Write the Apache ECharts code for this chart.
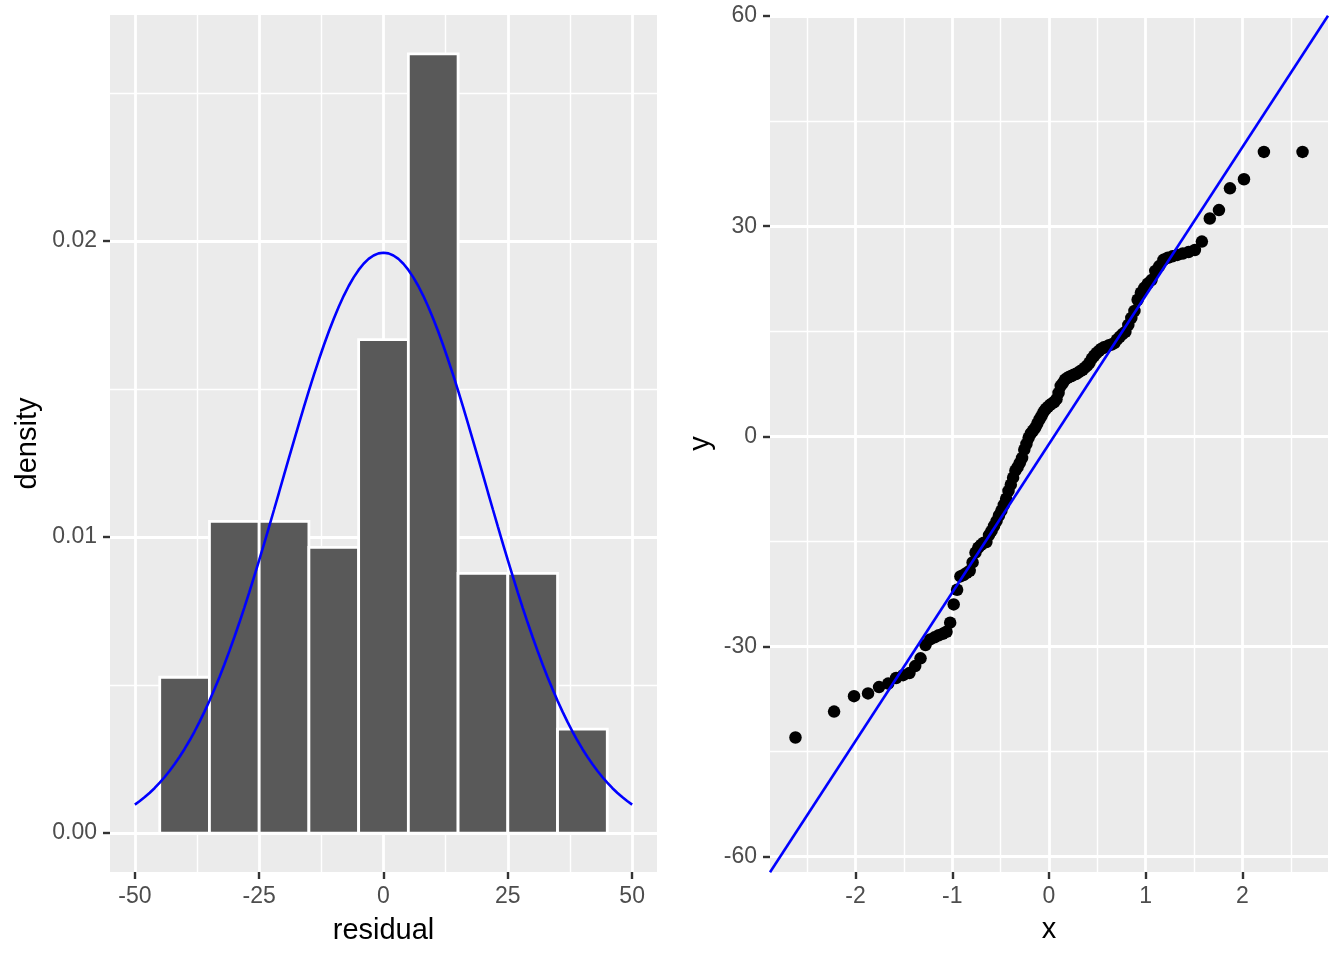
<!DOCTYPE html>
<html>
<head>
<meta charset="utf-8">
<script src="https://cdn.jsdelivr.net/npm/echarts@6/dist/echarts.min.js"></script>
<style>
  html, body { margin: 0; padding: 0; background: #FFFFFF; }
  #chart { width: 1344px; height: 960px; }
</style>
</head>
<body>
<div id="chart"></div>
<script>
// histogram: bins of width 10 starting at -45
var binStarts = [-45, -35, -25, -15, -5, 5, 15, 25, 35];
var binWidth = 10;
var binCounts = [6, 12, 12, 11, 19, 30, 10, 10, 4];
var nObs = 114;

// normal curve overlaid on the histogram
var normMean = 0;
var normSd = 20.35;
var curveFrom = -50;
var curveTo = 50;

// sorted residuals (sample quantiles)
var residuals = [
  -43.0, -39.3, -37.1, -36.7, -35.8, -35.3, -34.5, -34.1, -33.8, -32.8,
  -31.7, -29.8, -29.0, -28.7, -28.4, -28.2, -27.9, -26.6, -24.0, -21.9,
  -20.0, -19.8, -19.5, -19.2, -18.0, -16.6, -15.9, -15.5, -15.2, -15.1,
  -14.1, -13.5, -12.8, -12.1, -11.3, -10.6, -9.8, -8.9, -7.8, -6.9,
  -5.9, -4.9, -4.4, -3.8, -3.1, -1.9, -1.1, -0.2, 0.4, 0.8,
  1.2, 1.8, 2.4, 2.9, 3.5, 3.9, 4.2, 4.5, 4.7, 4.9,
  5.3, 6.2, 7.2, 7.6, 8.1, 8.3, 8.5, 8.6, 8.8, 8.9,
  9.1, 9.3, 9.5, 9.8, 10.1, 10.5, 11.1, 11.5, 11.9, 12.2,
  12.5, 12.7, 12.8, 13.0, 13.1, 13.3, 13.8, 14.2, 14.6, 14.9,
  15.9, 16.9, 17.9, 19.5, 20.5, 21.2, 21.8, 22.3, 23.6, 24.3,
  25.2, 25.5, 25.7, 25.9, 26.1, 26.3, 26.6, 27.8, 31.1, 32.3,
  35.4, 36.7, 40.6, 40.6
];

// reference line of the qq plot
var qqIntercept = -1.1;
var qqSlope = 21.2;

// tick labels
var histXTicks = [-50, -25, 0, 25, 50];
var histXMinor = [-37.5, -12.5, 12.5, 37.5];
var histYTicks = [0, 0.01, 0.02];
var histYMinor = [0.005, 0.015, 0.025];
var qqXTicks = [-2, -1, 0, 1, 2];
var qqXMinor = [-2.5, -1.5, -0.5, 0.5, 1.5, 2.5];
var qqYTicks = [-60, -30, 0, 30, 60];
var qqYMinor = [-45, -15, 15, 45];

// inverse normal cdf (Acklam)
function qnorm(p) {
  var a = [-3.969683028665376e+01, 2.209460984245205e+02, -2.759285104469687e+02, 1.383577518672690e+02, -3.066479806614716e+01, 2.506628277459239e+00];
  var b = [-5.447609879822406e+01, 1.615858368580409e+02, -1.556989798598866e+02, 6.680131188771972e+01, -1.328068155288572e+01];
  var c = [-7.784894002430293e-03, -3.223964580411365e-01, -2.400758277161838e+00, -2.549732539343734e+00, 4.374664141464968e+00, 2.938163982698783e+00];
  var d = [7.784695709041462e-03, 3.224671290700398e-01, 2.445134137142996e+00, 3.754408661907416e+00];
  var pl = 0.02425, q, r;
  if (p < pl) {
    q = Math.sqrt(-2 * Math.log(p));
    return (((((c[0]*q+c[1])*q+c[2])*q+c[3])*q+c[4])*q+c[5]) / ((((d[0]*q+d[1])*q+d[2])*q+d[3])*q+1);
  }
  if (p > 1 - pl) {
    q = Math.sqrt(-2 * Math.log(1 - p));
    return -(((((c[0]*q+c[1])*q+c[2])*q+c[3])*q+c[4])*q+c[5]) / ((((d[0]*q+d[1])*q+d[2])*q+d[3])*q+1);
  }
  q = p - 0.5; r = q * q;
  return (((((a[0]*r+a[1])*r+a[2])*r+a[3])*r+a[4])*r+a[5])*q / (((((b[0]*r+b[1])*r+b[2])*r+b[3])*r+b[4])*r+1);
}

function dnorm(x) {
  var z = (x - normMean) / normSd;
  return Math.exp(-0.5 * z * z) / (normSd * Math.sqrt(2 * Math.PI));
}

var histData = binStarts.map(function (s, i) {
  return [s, s + binWidth, binCounts[i] / (nObs * binWidth)];
});

var curveData = [];
for (var k = 0; k <= 100; k++) {
  var xv = curveFrom + (curveTo - curveFrom) * k / 100;
  curveData.push([xv, dnorm(xv)]);
}

var qqData = residuals.map(function (v, i) {
  return [qnorm((i + 0.5) / residuals.length), v];
});

var qqXMin = -2.884, qqXMax = 2.884;
var qqLine = [
  [qqXMin, qqIntercept + qqSlope * qqXMin],
  [qqXMax, qqIntercept + qqSlope * qqXMax]
];

var FONT = 'Liberation Sans, Arial, Helvetica, sans-serif';
var tickLabel = { color: '#4D4D4D', fontSize: 23, fontFamily: FONT, margin: 13 };
var tickStyle = { show: true, inside: false, length: 7, lineStyle: { color: '#333333', width: 2.4 } };
var majorLine = { show: true, lineStyle: { color: '#FFFFFF', width: 2.8 } };
var minorLine = { show: true, lineStyle: { color: '#FFFFFF', width: 1.4 } };
var nameStyle = { color: '#000000', fontSize: 29, fontFamily: FONT };

function mainAxis(gridIndex, pos, min, max, ticks, fmt, extra) {
  var label = Object.assign({ customValues: ticks, formatter: fmt }, tickLabel);
  if (pos === 'left') label.padding = [5, 0, 0, 0];
  var ax = {
    type: 'value', gridIndex: gridIndex, position: pos, min: min, max: max,
    axisLine: { show: false, onZero: false },
    axisTick: Object.assign({ customValues: ticks }, tickStyle),
    axisLabel: label,
    splitLine: majorLine,
    nameLocation: 'middle',
    nameTextStyle: nameStyle
  };
  return Object.assign(ax, extra || {});
}

function minorAxis(gridIndex, pos, min, max, ticks) {
  return {
    type: 'value', gridIndex: gridIndex, position: pos, min: min, max: max,
    axisLine: { show: false, onZero: false },
    axisTick: { show: false, customValues: ticks },
    axisLabel: { show: false },
    splitLine: minorLine
  };
}

var myChart = echarts.init(document.getElementById('chart'), null, { renderer: 'canvas' });

var option = {
  backgroundColor: '#FFFFFF',
  animation: false,
  grid: [
    { left: 110, top: 15, width: 547, height: 857, show: true, backgroundColor: '#EBEBEB', borderWidth: 0 },
    { left: 770, top: 15, width: 558, height: 857, show: true, backgroundColor: '#EBEBEB', borderWidth: 0 }
  ],
  xAxis: [
    mainAxis(0, 'bottom', -55, 55, histXTicks, function (v) { return String(v); }, { name: 'residual', nameGap: 44 }),
    minorAxis(0, 'top', -55, 55, histXMinor),
    mainAxis(1, 'bottom', qqXMin, qqXMax, qqXTicks, function (v) { return String(v); }, { name: 'x', nameGap: 43 }),
    minorAxis(1, 'top', qqXMin, qqXMax, qqXMinor)
  ],
  yAxis: [
    mainAxis(0, 'left', -0.001316, 0.027632, histYTicks, function (v) { return v.toFixed(2); }, { name: 'density', nameGap: 68, nameRotate: 90 }),
    minorAxis(0, 'right', -0.001316, 0.027632, histYMinor),
    mainAxis(1, 'left', -62.2, 60.15, qqYTicks, function (v) { return String(v); }, { name: 'y', nameGap: 55, nameRotate: 90 }),
    minorAxis(1, 'right', -62.2, 60.15, qqYMinor)
  ],
  series: [
    {
      type: 'custom',
      xAxisIndex: 0, yAxisIndex: 0,
      data: histData,
      z: 2,
      renderItem: function (params, api) {
        var p0 = api.coord([api.value(0), api.value(2)]);
        var p1 = api.coord([api.value(1), 0]);
        return {
          type: 'rect',
          shape: { x: p0[0], y: p0[1], width: p1[0] - p0[0], height: p1[1] - p0[1] },
          style: { fill: '#595959', stroke: '#FFFFFF', lineWidth: 2.8 }
        };
      }
    },
    {
      type: 'line',
      xAxisIndex: 0, yAxisIndex: 0,
      data: curveData,
      showSymbol: false,
      smooth: false,
      z: 3,
      lineStyle: { color: '#0000FF', width: 2.6 }
    },
    {
      type: 'scatter',
      xAxisIndex: 2, yAxisIndex: 2,
      data: qqData,
      symbolSize: 12.5,
      z: 2,
      itemStyle: { color: '#000000', opacity: 1 }
    },
    {
      type: 'line',
      xAxisIndex: 2, yAxisIndex: 2,
      data: qqLine,
      showSymbol: false,
      clip: true,
      z: 3,
      lineStyle: { color: '#0000FF', width: 2.6 }
    }
  ]
};

myChart.setOption(option);
window.onresize = function () {
  myChart.resize();
};
</script>
</body>
</html>
